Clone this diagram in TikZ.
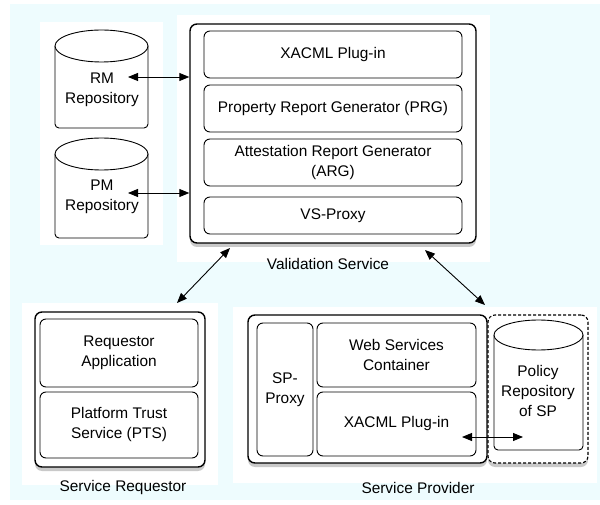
\documentclass[tikz,border=0pt]{standalone}
\usepackage{fontspec}
\setmainfont{Liberation Sans}
\usepackage{tikz}
\usepackage{xcolor}
\usetikzlibrary{arrows.meta,shadows}
\definecolor{bgcyan}{HTML}{EEFCFE}

\begin{document}
\begin{tikzpicture}[x=1pt,y=-1pt,
  font=\fontsize{15.4}{20}\selectfont,
  part/.style={draw, fill=white, rounded corners=6pt, line width=0.9pt, align=center, inner sep=2pt},
  holder/.style={draw, fill=white, rounded corners=7pt, line width=1.4pt,
    drop shadow={shadow xshift=0pt, shadow yshift=-4pt, opacity=0.35, fill=black!60}},
  cyl/.style={draw, fill=white, line width=0.9pt},
  link/.style={>={Triangle[length=10pt,width=8pt]}, <->, line width=0.9pt}]
\useasboundingbox (0,0) rectangle (600,505);
\fill[bgcyan] (10,4) rectangle (600,500);
\fill[white] (40,22) rectangle (163,245);
\fill[white] (177,15) rectangle (490,262);
\fill[white] (22,303) rectangle (218,485);
\fill[white] (233,307) rectangle (597,483);

\draw[cyl, rounded corners=4pt] (55,46) -- (55,128) -- (148,128) -- (148,46);
\draw[cyl] (101.5,46) ellipse [x radius=46.5, y radius=16];
\node[align=center] (rm) at (102,90) {RM\\Repository};
\draw[cyl, rounded corners=4pt] (55,154) -- (55,238) -- (148,238) -- (148,154);
\draw[cyl] (101.5,154) ellipse [x radius=46.5, y radius=16];
\node[align=center] (pm) at (102,197) {PM\\Repository};

\node[holder, minimum width=286pt, minimum height=219pt] (vs) at (333,133.5) {};
\node[part, minimum width=258pt, minimum height=47pt] (vsxacml) at (333,54.5) {XACML Plug-in};
\node[part, minimum width=258pt, minimum height=47pt] (prg) at (333,108.5) {Property Report Generator (PRG)};
\node[part, minimum width=258pt, minimum height=47pt] (arg) at (333,162.5) {Attestation Report Generator\\(ARG)};
\node[part, minimum width=258pt, minimum height=37pt] (vsproxy) at (333,215.5) {VS-Proxy};
\node (vslabel) at (328,264) {Validation Service};

\node[holder, minimum width=170pt, minimum height=155pt] (sr) at (120,389.5) {};
\node[part, minimum width=158pt, minimum height=68pt] (reqapp) at (119,353) {Requestor\\Application};
\node[part, minimum width=158pt, minimum height=66pt] (pts) at (119,425) {Platform Trust\\Service (PTS)};
\node (srlabel) at (123,488) {Service Requestor};

\node[holder, minimum width=100pt, minimum height=148pt, dash pattern=on 3pt off 2pt, line width=1.1pt] (polbox) at (538,389) {};
\node[holder, minimum width=239pt, minimum height=148pt] (sp) at (367.5,389) {};
\node[part, minimum width=56pt, minimum height=133pt] (spproxy) at (285,389.5) {SP-\\Proxy};
\node[part, minimum width=159pt, minimum height=64pt] (wsc) at (396.5,355) {Web Services\\Container};
\node[part, minimum width=159pt, minimum height=64pt] (spxacml) at (396.5,424) {XACML Plug-in};
\draw[cyl, rounded corners=4pt] (494,335) -- (494,450) -- (583,450) -- (583,335);
\draw[cyl] (538.5,335) ellipse [x radius=44.5, y radius=15];
\node[align=center] (policy) at (538,391) {Policy\\Repository\\of SP};
\node (splabel) at (418,488) {Service Provider};

\coordinate (rmport) at (128,77);
\coordinate (pmport) at (128,193);
\coordinate (vsleft) at (230,248);
\coordinate (vsright) at (425,250);
\coordinate (srtop) at (177,303);
\coordinate (sptop) at (485,305);
\coordinate (xacmlport) at (462,437);
\coordinate (polport) at (523,437);
\draw[link] (rmport) -- (rmport -| vs.west);
\draw[link] (pmport) -- (pmport -| vs.west);
\draw[link] (vsleft) -- (srtop);
\draw[link] (vsright) -- (sptop);
\draw[link] (xacmlport) -- (polport);
\end{tikzpicture}
\end{document}
